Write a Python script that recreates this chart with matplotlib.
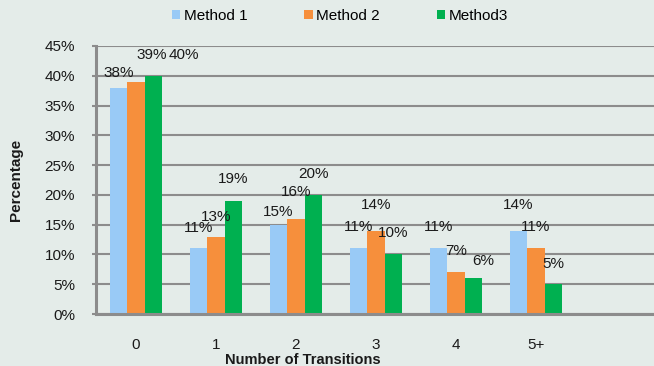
import numpy as np
import matplotlib
matplotlib.use("Agg")
import matplotlib.pyplot as plt

plt.rcParams['font.family'] = ['Liberation Sans', 'DejaVu Sans']

# data
categories = ['0', '1', '2', '3', '4', '5+', '']
series_names = ['Method 1', 'Method 2', 'Method3']
method1 = [38, 11, 15, 11, 11, 14]
method2 = [39, 13, 16, 14, 7, 11]
method3 = [40, 19, 20, 10, 6, 5]

# style
colors = ['#99CAF6', '#F68F3C', '#00B050']
bg = '#E4ECE9'
grid_col = '#8C8C8C'
W, H = 654, 366

# label nudges (pixels, dx and dy from bar top to label centre)
label_nudge = [
  [(0, 15), (0, 20), (0, 13), (0, 21), (0, 21), (0, 26)],
  [(16, 27), (0, 20), (0, 27), (0, 26), (0, 21), (0, 21)],
  [(30, 21), (0, 22), (0, 21), (0, 21), (10, 17), (0, 20)],
]

fig = plt.figure(figsize=(W/100, H/100), dpi=100, facecolor=bg)
ax = fig.add_axes([96/W, (H-314)/H, 560/W, 268/H])
ax.set_facecolor(bg)

x = np.arange(len(method1))
bw = 0.22
allvals = [method1, method2, method3]
for k, vals in enumerate(allvals):
  pos = x + (k-1)*bw
  ax.bar(pos, np.array(vals)/100, width=bw, color=colors[k],
         label=series_names[k], zorder=3)
  for j, v in enumerate(vals):
    dx, dy = label_nudge[k][j]
    ax.annotate('%d%%' % v, xy=(pos[j], v/100), xytext=(dx, dy),
                textcoords='offset pixels', ha='center', va='center',
                fontsize=11, color='#1a1a1a', zorder=4)

ax.set_xlim(-0.5, len(categories)-0.5)
ax.set_ylim(0, 0.45)
ax.set_yticks(np.arange(0, 0.451, 0.05))
ax.set_yticklabels(['%d%%' % round(t*100) for t in np.arange(0, 0.451, 0.05)])
ax.set_xticks(np.arange(len(categories)))
ax.set_xticklabels(categories)

ax.yaxis.grid(True, color=grid_col, linewidth=1.5, zorder=0)
ax.set_axisbelow(True)
for s in ['top', 'right']:
  ax.spines[s].set_visible(False)
for s in ['left', 'bottom']:
  ax.spines[s].set_color(grid_col)
  ax.spines[s].set_linewidth(2.2)
  ax.spines[s].set_zorder(5)

ax.tick_params(axis='x', length=0, pad=17, labelsize=11, labelcolor='#1a1a1a')
ax.tick_params(axis='y', length=3, width=1.5, color=grid_col, pad=12,
               labelsize=11, labelcolor='#1a1a1a')

fig.text(303/W, 1-359.5/H, 'Number of Transitions', ha='center', va='center',
         fontsize=10.5, fontweight='bold', color='#1a1a1a')
fig.text(16/W, 1-180/H, 'Percentage', ha='center', va='center', rotation=90,
         fontsize=11, fontweight='bold', color='#1a1a1a')

fig.legend(loc='center', bbox_to_anchor=(340/W, 1-16/H), ncol=3,
           frameon=False, fontsize=11, handlelength=0.55, handleheight=0.55,
           handletextpad=0.25, columnspacing=3.7, borderaxespad=0)

fig.savefig('out.png', dpi=100, facecolor=bg)
